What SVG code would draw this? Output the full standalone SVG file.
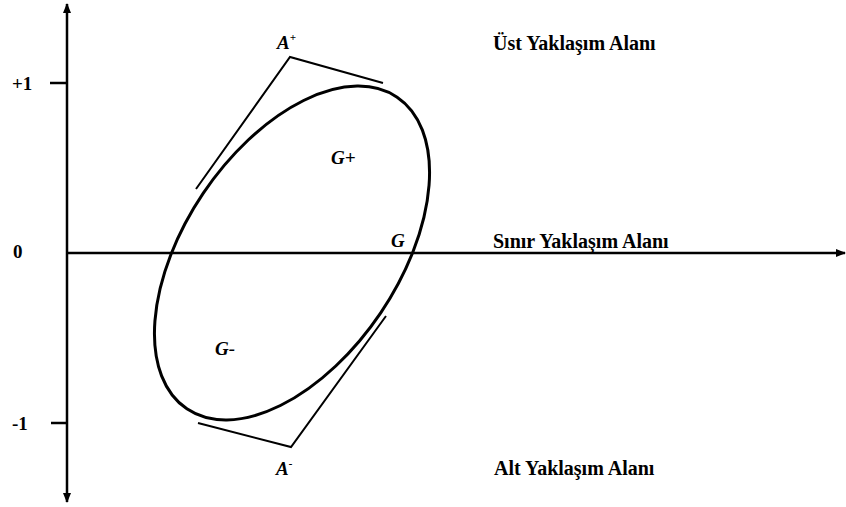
<svg xmlns="http://www.w3.org/2000/svg" width="846" height="507" viewBox="0 0 846 507">
<style>
.ax{stroke:#000;stroke-width:2.5;fill:none}
.tg{stroke:#000;stroke-width:2;fill:none}
.t{font-family:"Liberation Serif","Times New Roman",serif;font-weight:bold;font-size:19px;fill:#000}
.i{font-style:italic}
.sup{font-size:11px}
.r{font-size:20px}
</style>
<defs>
<marker id="ah" viewBox="0 0 10 10" refX="9" refY="5" markerWidth="4" markerHeight="4" orient="auto-start-reverse" markerUnits="strokeWidth">
<path d="M0,1 L10,5 L0,9 Z" fill="#000"/>
</marker>
</defs>
<rect width="846" height="507" fill="#fff"/>
<g id="connectors">
<line class="ax" x1="67" y1="502" x2="67" y2="4" marker-start="url(#ah)" marker-end="url(#ah)"/>
<line class="ax" x1="66" y1="253" x2="845" y2="253" marker-end="url(#ah)"/>
<line class="ax" x1="50" y1="83" x2="67" y2="83"/>
<line class="ax" x1="51" y1="423" x2="67" y2="423"/>
<polyline class="tg" points="196,189 290,57 383,83"/>
<polyline class="tg" points="198,423 291,447 386,316"/>
</g>
<g id="ellipse">
<ellipse cx="292" cy="253" rx="188" ry="107" transform="rotate(-56 292 253)" fill="none" stroke="#000" stroke-width="3"/>
</g>
<g id="axis-labels">
<text class="t" x="12" y="90">+1</text>
<text class="t" x="13" y="258">0</text>
<text class="t" x="12" y="430">-1</text>
</g>
<g id="point-labels">
<text class="t i" x="277" y="49">A<tspan class="sup" dy="-8">+</tspan></text>
<text class="t i" x="331" y="164">G+</text>
<text class="t i" x="391" y="247">G</text>
<text class="t i" x="215" y="355">G-</text>
<text class="t i" x="276" y="475">A<tspan class="sup" dy="-8">-</tspan></text>
</g>
<g id="region-labels">
<text class="t r" x="493" y="50">Üst Yaklaşım Alanı</text>
<text class="t r" x="493" y="248">Sınır Yaklaşım Alanı</text>
<text class="t r" x="494" y="475">Alt Yaklaşım Alanı</text>
</g>
</svg>
